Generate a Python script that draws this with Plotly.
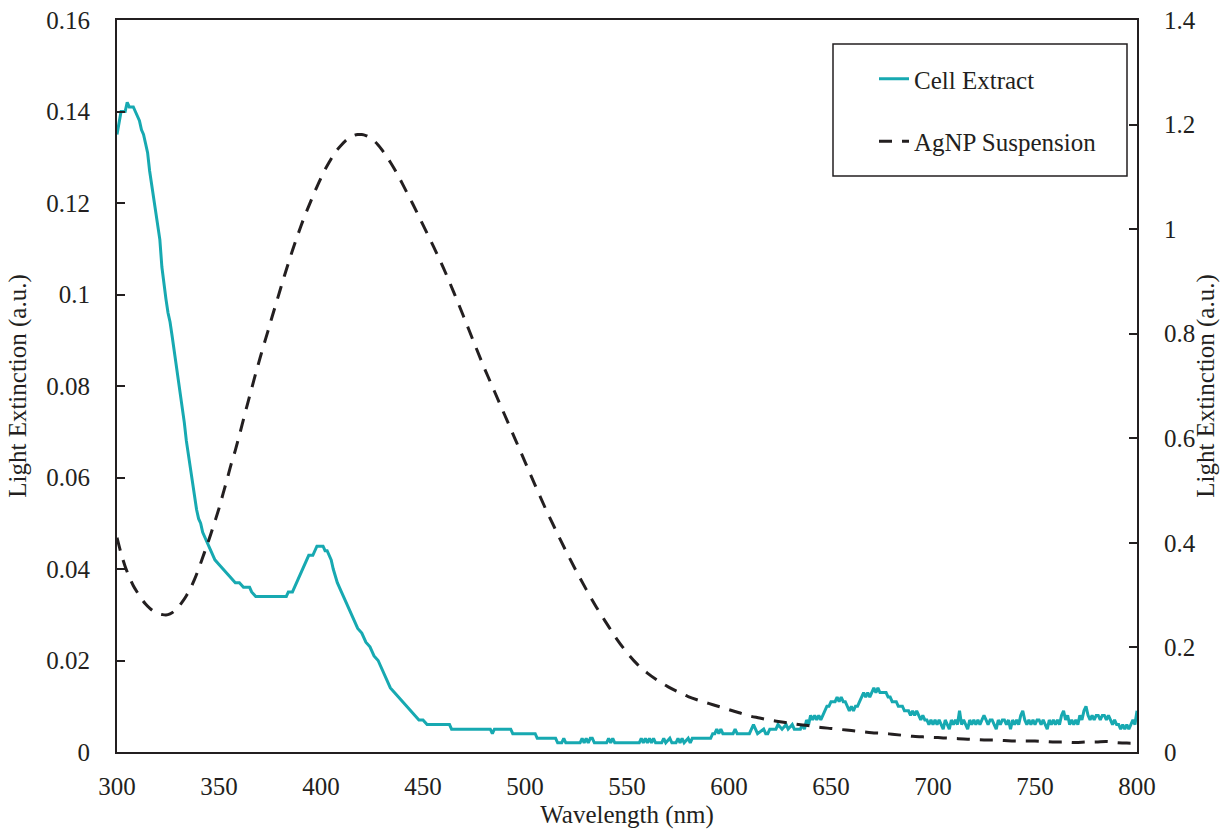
import plotly.graph_objects as go

# Cell extract spectrum (left axis)
cell_wavelength = [
    300, 301, 302, 303, 304, 305, 306, 307, 308, 309, 310, 311, 312, 313, 314, 315, 316, 317, 318, 319,
    320, 321, 322, 323, 324, 325, 326, 327, 328, 329, 330, 331, 332, 333, 334, 335, 336, 337, 338, 339,
    340, 341, 342, 343, 344, 345, 346, 347, 348, 350, 352, 354, 356, 358, 360, 362, 365, 366, 368, 383,
    384, 386, 387, 388, 390, 392, 394, 396, 397, 398, 401, 402, 403, 404, 405, 406, 408, 410, 412, 414,
    416, 418, 420, 422, 424, 426, 428, 430, 432, 434, 436, 438, 440, 442, 444, 446, 448, 450, 452, 463,
    464, 483, 484, 485, 493, 494, 505, 506, 515, 516, 518, 519, 520, 527, 528, 529, 530, 531, 532, 533,
    534, 540, 541, 542, 543, 544, 556, 557, 558, 559, 560, 561, 562, 563, 564, 567, 568, 569, 571, 572,
    574, 575, 576, 577, 578, 580, 581, 582, 591, 592, 593, 594, 595, 596, 597, 602, 603, 604, 610, 611,
    612, 613, 614, 617, 618, 619, 620, 623, 624, 626, 628, 629, 631, 632, 634,
    635, 636, 637, 638, 639, 640, 641, 642, 643, 644, 645, 646, 647, 648, 649, 650, 651, 652, 653, 654,
    655, 656, 657, 658, 659, 660, 661, 662, 663, 664, 665, 666, 667, 668, 669, 670, 671, 672, 673, 674,
    675, 676, 677, 678, 679, 680, 681, 682, 683, 684, 685, 686, 687, 688, 689, 690, 691, 692, 693, 694,
    695, 696, 697, 698, 699, 700, 701, 702, 703, 704, 705, 706, 707, 708, 709, 710, 711, 712, 713, 714,
    715, 716, 717, 718, 719, 720, 721, 722, 723, 724, 725, 726, 727, 728, 729, 730, 731, 732, 733, 734,
    735, 736, 737, 738, 739, 740, 741, 742, 743, 744, 745, 746, 747, 748, 749, 750, 751, 752, 753, 754,
    755, 756, 757, 758, 759, 760, 761, 762, 763, 764, 765, 766, 767, 768, 769, 770, 771, 772, 773, 774,
    775, 776, 777, 778, 779, 780, 781, 782, 783, 784, 785, 786, 787, 788, 789, 790, 791, 792, 793, 794,
    795, 796, 797, 798, 799, 800,
]
cell_extinction = [
    0.135, 0.138, 0.140, 0.140, 0.140, 0.142, 0.141, 0.141, 0.141, 0.140, 0.139, 0.138, 0.136, 0.135, 0.133, 0.131, 0.127, 0.124, 0.121, 0.118,
    0.116, 0.112, 0.106, 0.102, 0.099, 0.096, 0.094, 0.091, 0.088, 0.085, 0.082, 0.079, 0.076, 0.072, 0.068, 0.065, 0.061, 0.058, 0.056, 0.053,
    0.051, 0.050, 0.048, 0.047, 0.046, 0.045, 0.044, 0.043, 0.042, 0.041, 0.040, 0.039, 0.038, 0.037, 0.037, 0.036, 0.036, 0.035, 0.034, 0.034,
    0.035, 0.035, 0.036, 0.037, 0.039, 0.041, 0.043, 0.043, 0.044, 0.045, 0.045, 0.044, 0.044, 0.043, 0.042, 0.040, 0.037, 0.035, 0.033, 0.031,
    0.029, 0.027, 0.026, 0.024, 0.023, 0.021, 0.020, 0.018, 0.016, 0.014, 0.013, 0.012, 0.011, 0.010, 0.009, 0.008, 0.007, 0.007, 0.006, 0.006,
    0.005, 0.005, 0.004, 0.005, 0.005, 0.004, 0.004, 0.003, 0.003, 0.002, 0.002, 0.003, 0.002, 0.002, 0.003, 0.002, 0.003, 0.002, 0.003, 0.003,
    0.002, 0.002, 0.003, 0.002, 0.003, 0.002, 0.002, 0.003, 0.002, 0.003, 0.002, 0.003, 0.002, 0.003, 0.002, 0.002, 0.003, 0.002, 0.003, 0.002,
    0.002, 0.003, 0.002, 0.003, 0.002, 0.003, 0.002, 0.003, 0.003, 0.004, 0.004, 0.005, 0.004, 0.005, 0.004, 0.004, 0.005, 0.004, 0.004, 0.005,
    0.006, 0.005, 0.004, 0.005, 0.004, 0.004, 0.005, 0.005, 0.006, 0.005, 0.006, 0.005, 0.006, 0.005, 0.005,
    0.005, 0.006, 0.005, 0.007, 0.006, 0.008, 0.007, 0.008, 0.007, 0.008, 0.007, 0.008, 0.009, 0.010, 0.010, 0.011, 0.011, 0.011, 0.012, 0.011,
    0.012, 0.011, 0.011, 0.010, 0.009, 0.010, 0.009, 0.010, 0.010, 0.011, 0.012, 0.013, 0.012, 0.013, 0.012, 0.013, 0.014, 0.013, 0.014, 0.013,
    0.013, 0.013, 0.013, 0.012, 0.012, 0.011, 0.011, 0.011, 0.010, 0.010, 0.010, 0.009, 0.009, 0.009, 0.008, 0.009, 0.008, 0.009, 0.008, 0.007,
    0.008, 0.007, 0.007, 0.006, 0.007, 0.006, 0.007, 0.006, 0.007, 0.006, 0.005, 0.007, 0.006, 0.005, 0.007, 0.006, 0.007, 0.006, 0.009, 0.006,
    0.007, 0.006, 0.005, 0.007, 0.006, 0.007, 0.006, 0.007, 0.006, 0.007, 0.008, 0.007, 0.006, 0.007, 0.007, 0.006, 0.005, 0.007, 0.006, 0.007,
    0.007, 0.006, 0.007, 0.005, 0.007, 0.006, 0.007, 0.006, 0.008, 0.009, 0.007, 0.006, 0.007, 0.006, 0.007, 0.006, 0.007, 0.007, 0.006, 0.007,
    0.006, 0.005, 0.007, 0.006, 0.007, 0.006, 0.007, 0.006, 0.008, 0.009, 0.007, 0.008, 0.006, 0.007, 0.006, 0.007, 0.006, 0.008, 0.007, 0.009,
    0.010, 0.008, 0.007, 0.008, 0.007, 0.008, 0.008, 0.007, 0.008, 0.008, 0.007, 0.008, 0.007, 0.006, 0.007, 0.006, 0.006, 0.005, 0.006, 0.005,
    0.006, 0.005, 0.006, 0.007, 0.006, 0.009,
]

# AgNP suspension spectrum (right axis)
agnp_wavelength = [
    300, 302, 304, 306, 308, 310, 312, 314, 316, 318, 320, 322, 324, 326, 328, 330, 332, 334, 336, 338,
    340, 342, 344, 346, 348, 350, 352, 354, 356, 358, 360, 362, 364, 366, 368, 370, 372, 374, 376, 378,
    380, 382, 384, 386, 388, 390, 392, 394, 396, 398, 400, 402, 404, 406, 408, 410, 412, 414, 416, 418,
    420, 422, 424, 426, 428, 430, 432, 434, 436, 438, 440, 445, 450, 455, 460, 465, 470, 475, 480, 485,
    490, 495, 500, 505, 510, 515, 520, 525, 530, 535, 540, 545, 550, 555, 560, 565, 570, 575, 580, 585,
    590, 595, 600, 605, 610, 615, 620, 625, 630, 635, 640, 645, 650, 655, 660, 665, 670, 675, 680, 685,
    690, 695, 700, 705, 710, 715, 720, 725, 730, 735, 740, 745, 750, 755, 760, 765, 770, 775, 780, 785,
    790, 795, 800,
]
agnp_extinction = [
    0.410, 0.380, 0.355, 0.335, 0.318, 0.305, 0.293, 0.283, 0.275, 0.269, 0.265, 0.263, 0.262, 0.264, 0.269, 0.277, 0.287, 0.299, 0.313, 0.330,
    0.350, 0.372, 0.394, 0.417, 0.441, 0.466, 0.494, 0.522, 0.551, 0.577, 0.606, 0.636, 0.666, 0.695, 0.724, 0.752, 0.779, 0.805, 0.832, 0.858,
    0.884, 0.910, 0.935, 0.959, 0.982, 1.004, 1.025, 1.044, 1.063, 1.081, 1.098, 1.114, 1.128, 1.141, 1.152, 1.161, 1.169, 1.175, 1.179, 1.181,
    1.181, 1.179, 1.175, 1.169, 1.161, 1.151, 1.140, 1.128, 1.115, 1.101, 1.086, 1.048, 1.008, 0.968, 0.926, 0.880, 0.832, 0.783, 0.735, 0.690,
    0.645, 0.600, 0.555, 0.510, 0.466, 0.425, 0.385, 0.347, 0.311, 0.277, 0.246, 0.216, 0.190, 0.168, 0.151, 0.137, 0.125, 0.115, 0.106, 0.099,
    0.093, 0.087, 0.081, 0.075, 0.069, 0.065, 0.061, 0.058, 0.055, 0.052, 0.050, 0.047, 0.045, 0.043, 0.041, 0.039, 0.037, 0.036, 0.034, 0.032,
    0.030, 0.029, 0.028, 0.027, 0.026, 0.025, 0.024, 0.023, 0.023, 0.022, 0.021, 0.021, 0.021, 0.020, 0.019, 0.019, 0.018, 0.019, 0.019, 0.020,
    0.018, 0.017, 0.017,
]

left_ticks = [0, 0.02, 0.04, 0.06, 0.08, 0.1, 0.12, 0.14, 0.16]
right_ticks = [0, 0.2, 0.4, 0.6, 0.8, 1, 1.2, 1.4]
x_ticks = [300, 350, 400, 450, 500, 550, 600, 650, 700, 750, 800]

FONT = "Liberation Serif"
FS = 25
INK = "#231f20"
TEAL = "#17a9b1"

fig = go.Figure()
fig.add_trace(go.Scatter(
    x=cell_wavelength, y=cell_extinction, mode="lines", name="Cell Extract",
    line=dict(color=TEAL, width=3), legendgroup="a", yaxis="y",
))
fig.add_trace(go.Scatter(
    x=agnp_wavelength, y=agnp_extinction, mode="lines", name="AgNP Suspension",
    line=dict(color=INK, width=3, dash="13px,10px", shape="spline"), legendgroup="b", yaxis="y2",
))

L, R, T, B = 117, 83, 20, 77
W, H = 1220, 829
pw, ph = W - L - R, H - T - B


def px_x(px):
    return (px - L) / pw


def px_y(py):
    return (H - B - py) / ph


fig.update_layout(
    width=W, height=H,
    margin=dict(l=L, r=R, t=T, b=B, autoexpand=False),
    paper_bgcolor="white", plot_bgcolor="white",
    font=dict(family=FONT, size=FS, color=INK),
    showlegend=True,
    legend=dict(
        x=px_x(874), y=px_y(56), xanchor="left", yanchor="top",
        bgcolor="rgba(0,0,0,0)", borderwidth=0, tracegroupgap=27,
        font=dict(family=FONT, size=FS, color=INK),
    ),
    xaxis=dict(
        range=[300, 800], tickvals=x_ticks, ticks="", showgrid=False, zeroline=False,
        showline=True, linecolor=INK, linewidth=2, mirror=True,
        ticklabelstandoff=11,
        title=dict(text="Wavelength (nm)", standoff=11, font=dict(family=FONT, size=FS)),
    ),
    yaxis=dict(
        range=[0, 0.16], tickvals=left_ticks, ticks="inside", ticklen=8, tickwidth=2,
        tickcolor=INK, showgrid=False, zeroline=False,
        showline=True, linecolor=INK, linewidth=2,
        ticklabelstandoff=20,
        title=dict(text="Light Extinction (a.u.)", standoff=13, font=dict(family=FONT, size=FS)),
    ),
    yaxis2=dict(
        range=[0, 1.4], tickvals=right_ticks, ticks="inside", ticklen=8, tickwidth=2,
        tickcolor=INK, showgrid=False, zeroline=False, overlaying="y", side="right",
        showline=True, linecolor=INK, linewidth=2,
        ticklabelstandoff=20,
        title=dict(text="Light Extinction (a.u.)", standoff=13, font=dict(family=FONT, size=FS)),
    ),
    shapes=[dict(
        type="rect", xref="paper", yref="paper",
        x0=px_x(833), x1=px_x(1127), y0=px_y(176), y1=px_y(44),
        line=dict(color=INK, width=1.5), fillcolor="rgba(0,0,0,0)",
    )],
)

fig.write_html("out.html")
